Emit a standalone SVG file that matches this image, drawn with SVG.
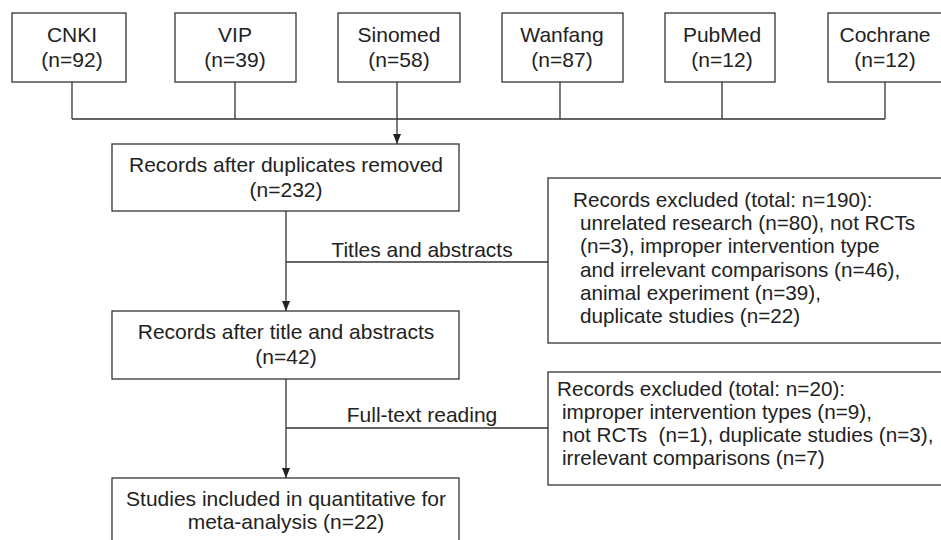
<svg xmlns="http://www.w3.org/2000/svg" width="941" height="540" viewBox="0 0 941 540">
<defs>
<style>
.box{fill:#fff;stroke:#333;stroke-width:1.3}
.ln{fill:none;stroke:#333;stroke-width:1.3}
text{font-family:"Liberation Sans",Arial,sans-serif;font-size:21px;fill:#222}
.c{text-anchor:middle}
.ex{font-size:20.7px;white-space:pre}
</style>
<marker id="ah" viewBox="0 0 10 8" refX="10" refY="4" markerWidth="10" markerHeight="8" markerUnits="userSpaceOnUse" orient="auto">
<path d="M0,0 L10,4 L0,8 Z" fill="#222"/>
</marker>
</defs>
<rect width="941" height="540" fill="#fff"/>
<g id="connectors">
<path class="ln" d="M72,82 V119 M235,82 V119 M560,82 V119 M722,82 V119 M885,82 V119 M72,119 H885"/>
<path class="ln" d="M397,82 V144" marker-end="url(#ah)"/>
<path class="ln" d="M286,211 V311" marker-end="url(#ah)"/>
<path class="ln" d="M286,262 H548"/>
<path class="ln" d="M286,379 V478" marker-end="url(#ah)"/>
<path class="ln" d="M286,428 H548"/>
<text class="c" x="422" y="257">Titles and abstracts</text>
<text class="c" x="422" y="422">Full-text reading</text>
</g>
<g id="cnki"><rect class="box" x="12" y="13" width="114" height="69"/><text class="c" x="72" y="42">CNKI</text><text class="c" x="72" y="67">(n=92)</text></g>
<g id="vip"><rect class="box" x="175" y="13" width="121" height="69"/><text class="c" x="235" y="42">VIP</text><text class="c" x="235" y="67">(n=39)</text></g>
<g id="sinomed"><rect class="box" x="338" y="13" width="122" height="69"/><text class="c" x="399" y="42">Sinomed</text><text class="c" x="399" y="67">(n=58)</text></g>
<g id="wanfang"><rect class="box" x="502" y="13" width="121" height="69"/><text class="c" x="562" y="42">Wanfang</text><text class="c" x="562" y="67">(n=87)</text></g>
<g id="pubmed"><rect class="box" x="665" y="13" width="110" height="69"/><text class="c" x="722" y="42">PubMed</text><text class="c" x="722" y="67">(n=12)</text></g>
<g id="cochrane"><rect class="box" x="828" y="13" width="130" height="69"/><text class="c" x="885" y="42">Cochrane</text><text class="c" x="885" y="67">(n=12)</text></g>
<g id="dedup"><rect class="box" x="112" y="144" width="347" height="67"/><text class="c" x="286" y="172">Records after duplicates removed</text><text class="c" x="286" y="197">(n=232)</text></g>
<g id="excluded1"><rect class="box" x="548" y="178" width="410" height="165"/>
<text class="ex" x="573" y="207">Records excluded (total: n=190):</text>
<text class="ex" x="580" y="230">unrelated research (n=80), not RCTs</text>
<text class="ex" x="580" y="253">(n=3), improper intervention type</text>
<text class="ex" x="580" y="277">and irrelevant comparisons (n=46),</text>
<text class="ex" x="580" y="300">animal experiment (n=39),</text>
<text class="ex" x="580" y="323">duplicate studies (n=22)</text>
</g>
<g id="titleabs"><rect class="box" x="112" y="311" width="347" height="68"/><text class="c" x="286" y="339">Records after title and abstracts</text><text class="c" x="286" y="364">(n=42)</text></g>
<g id="excluded2"><rect class="box" x="548" y="372" width="410" height="113"/>
<text class="ex" x="557" y="396">Records excluded (total: n=20):</text>
<text class="ex" x="562" y="419">improper intervention types (n=9),</text>
<text class="ex" x="562" y="442" xml:space="preserve">not RCTs  (n=1), duplicate studies (n=3),</text>
<text class="ex" x="562" y="465">irrelevant comparisons (n=7)</text>
</g>
<g id="included"><rect class="box" x="112" y="478" width="347" height="80"/><text class="c" x="286" y="506">Studies included in quantitative for</text><text class="c" x="286" y="529">meta-analysis (n=22)</text></g>
</svg>
